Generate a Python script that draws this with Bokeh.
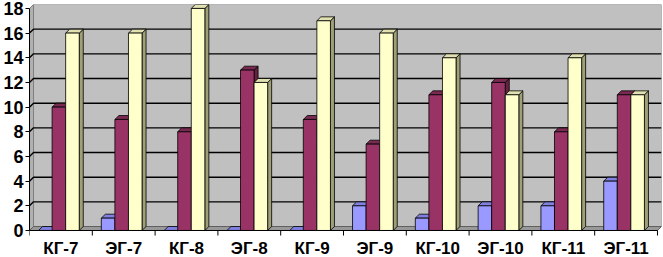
from bokeh.plotting import figure
from bokeh.models import Range1d, FixedTicker, ColumnDataSource
from bokeh.core.properties import value
from bokeh.embed import file_html
from bokeh.resources import INLINE

categories = ["КГ-7", "ЭГ-7", "КГ-8", "ЭГ-8", "КГ-9", "ЭГ-9", "КГ-10", "ЭГ-10", "КГ-11", "ЭГ-11"]
series_blue = [0, 1, 0, 0, 0, 2, 1, 2, 2, 4]
series_maroon = [10, 9, 8, 13, 9, 7, 11, 12, 8, 11]
series_yellow = [16, 16, 18, 12, 17, 16, 14, 11, 14, 11]
y_ticks = [0, 2, 4, 6, 8, 10, 12, 14, 16, 18]

series = [series_blue, series_maroon, series_yellow]
front_colors = ["#9999ff", "#993366", "#ffffcc"]
side_colors = ["#6868b0", "#66223f", "#a0a078"]
top_colors = ["#8080e0", "#7a2a50", "#e0e0b0"]

n = len(categories)
ymax = y_ticks[-1]
dx = 0.064   # depth offset (category units)
dy = 0.32    # depth offset (value units)
bw = 0.216   # bar width
gap0 = 0.144
ybot = -2.19  # room for category labels below the floor

W, H = 663, 257
p = figure(width=W, height=H, output_backend="svg", toolbar_location=None,
           x_range=Range1d(0, n + dx), y_range=Range1d(ybot, ymax + dy),
           min_border_left=0, min_border_right=2, min_border_top=4, min_border_bottom=0)
p.background_fill_color = "white"
p.border_fill_color = "white"
p.outline_line_color = None
p.xgrid.visible = False
p.ygrid.visible = False
p.xaxis.visible = False

# walls and floor
p.patch([dx, n + dx, n + dx, dx], [dy, dy, ymax + dy, ymax + dy],
        fill_color="#c0c0c0", line_color="#808080", line_width=1)
p.patch([0, dx, dx, 0], [0, dy, ymax + dy, ymax],
        fill_color="#b0b0b0", line_color="#808080", line_width=1)

# gridlines
gx, gy = [], []
for v in y_ticks[1:-1]:
    gx.append([0, dx, n + dx])
    gy.append([v, v + dy, v + dy])
p.multi_line(gx, gy, line_color="black", line_width=1.4)

p.patch([0, n, n + dx, dx], [0, 0, dy, dy],
        fill_color="#9a9a9a", line_color="#606060", line_width=1)

# bars: sides and tops
sx, sy, sc, tx, ty, tc = [], [], [], [], [], []
fx, ftop, fc = [], [], []
for i in range(n):
    for s in range(3):
        v = series[s][i]
        x0 = i + gap0 + s * bw
        x1 = x0 + bw
        sx.append([x1, x1 + dx, x1 + dx, x1])
        sy.append([0, dy, v + dy, v])
        sc.append(side_colors[s])
        tx.append([x0, x1, x1 + dx, x0 + dx])
        ty.append([v, v, v + dy, v + dy])
        tc.append(top_colors[s])
        fx.append((x0 + x1) / 2)
        ftop.append(v)
        fc.append(front_colors[s])

p.patches(xs="xs", ys="ys", fill_color="c", line_color="black", line_width=0.8,
          source=ColumnDataSource(dict(xs=sx, ys=sy, c=sc)))
p.patches(xs="xs", ys="ys", fill_color="c", line_color="black", line_width=0.8,
          source=ColumnDataSource(dict(xs=tx, ys=ty, c=tc)))
p.vbar(x="x", top="top", bottom=0, width=bw, fill_color="c", line_color="black", line_width=0.8,
       source=ColumnDataSource(dict(x=fx, top=ftop, c=fc)))

# category axis: line, boundary ticks and labels
p.segment(x0=[0], y0=[0], x1=[n], y1=[0], line_color="black", line_width=1)
p.segment(x0=list(range(n + 1)), y0=[0] * (n + 1), x1=list(range(n + 1)), y1=[-0.41] * (n + 1),
          line_color="black", line_width=1)
centers = [i + 0.5 for i in range(n)]
p.text(x=centers, y=[-1.45] * n, text=categories, text_align="center", text_baseline="middle",
       text_font=value("Liberation Sans"), text_font_style="bold", text_font_size="17px",
       text_color="black")

# value axis
p.yaxis.ticker = FixedTicker(ticks=y_ticks)
p.yaxis.bounds = (0, ymax)
p.yaxis.major_tick_out = 4
p.yaxis.major_tick_in = 0
p.yaxis.minor_tick_line_color = None
p.yaxis.major_label_standoff = 2
p.yaxis.axis_line_color = "black"
p.yaxis.major_tick_line_color = "black"
p.yaxis.major_label_text_font = "Liberation Sans"
p.yaxis.major_label_text_font_style = "bold"
p.yaxis.major_label_text_font_size = "18px"
p.yaxis.major_label_text_color = "black"

open("out.html", "w").write(file_html(p, INLINE))
